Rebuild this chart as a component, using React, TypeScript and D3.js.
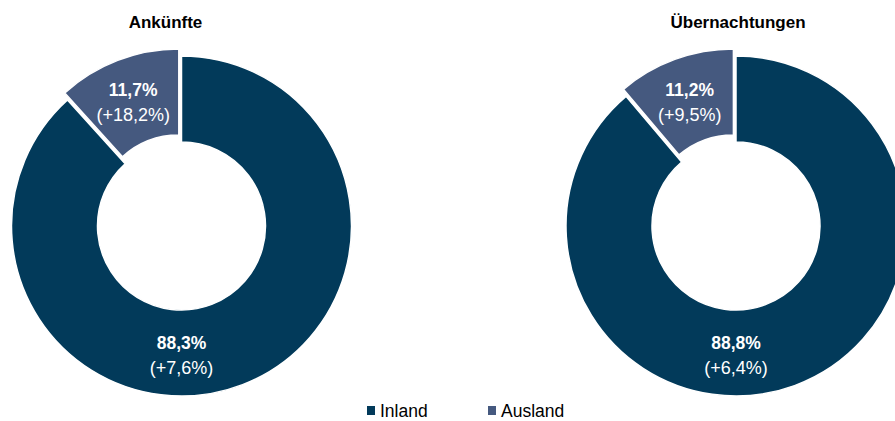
import * as d3 from "d3";

const categories = ["Inland", "Ausland"];
const charts = ["Ankünfte", "Übernachtungen"];
const shares = [
  [88.3, 11.7],
  [88.8, 11.2],
];
const changes = [
  ["+7,6%", "+18,2%"],
  ["+6,4%", "+9,5%"],
];
const colors = ["#023a5a", "#45597f"];

const width = 895;
const height = 421;
const outerR = 170;
const innerR = 84;
const explode = 7.5;
const fmt = (v: number) => v.toFixed(1).replace(".", ",") + "%";

function Donut({ idx, cx, titleX }: { idx: number; cx: number; titleX: number }) {
  const cy = 226;
  const pie = d3.pie<number>().sort(null).value((d) => d);
  const arcs = pie(shares[idx]);
  const arc = d3.arc<d3.PieArcDatum<number>>().innerRadius(innerR).outerRadius(outerR);
  return (
    <g>
      <text
        x={titleX}
        y={28}
        textAnchor="middle"
        fontWeight="bold"
        fontSize={17}
        fill="#000"
      >
        {charts[idx]}
      </text>
      <g transform={`translate(${cx},${cy})`}>
        {arcs.map((a, i) => {
          const mid = (a.startAngle + a.endAngle) / 2;
          const off = i === 1 ? explode : 0;
          const dx = Math.sin(mid) * off;
          const dy = -Math.cos(mid) * off;
          // Excel puts the big slice's label straight below the hole
          const la = i === 0 ? Math.PI : mid;
          const lr = (innerR + outerR) / 2;
          const lx = Math.sin(la) * lr + dx;
          const ly = -Math.cos(la) * lr + dy;
          return (
            <g key={i}>
              <path
                d={arc(a) || ""}
                transform={`translate(${dx},${dy})`}
                fill={colors[i]}
                stroke="#fff"
                strokeWidth={1.5}
              />
              <text x={lx} y={ly - 4} textAnchor="middle" fill="#fff" fontWeight="bold" fontSize={17.5}>
                {fmt(shares[idx][i])}
              </text>
              <text x={lx} y={ly + 21} textAnchor="middle" fill="#fff" fontSize={18}>
                ({changes[idx][i]})
              </text>
            </g>
          );
        })}
      </g>
    </g>
  );
}

export default function App() {
  const legendX = d3.scalePoint<string>().domain(categories).range([367, 488]);
  return (
    <svg
      width={width}
      height={height}
      style={{ position: "absolute", left: 0, top: 0, display: "block", background: "#fff" }}
      fontFamily="Arial, 'Liberation Sans', sans-serif"
    >
      <Donut idx={0} cx={181.5} titleX={165.5} />
      <Donut idx={1} cx={736} titleX={738} />
      <g>
        {categories.map((c) => (
          <g key={c} transform={`translate(${legendX(c)},0)`}>
            <rect x={0} y={406} width={8} height={9} fill={colors[categories.indexOf(c)]} />
            <text x={13} y={417} fontSize={17.5} fill="#000">
              {c}
            </text>
          </g>
        ))}
      </g>
    </svg>
  );
}
